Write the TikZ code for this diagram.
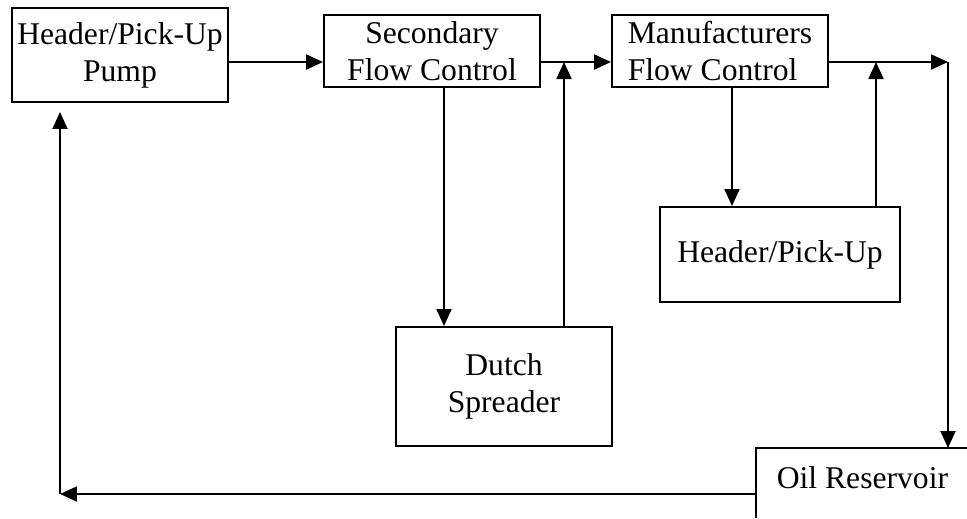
\documentclass[tikz,border=0pt]{standalone}
\usepackage{fontspec}
\setmainfont{Liberation Serif}
\usepackage{tikz}
\usetikzlibrary{arrows.meta,positioning}
\tikzset{
  box/.style={draw, line width=1.1pt, fill=white, align=center, inner xsep=2pt, inner ysep=1pt,
    minimum width=4.32cm, font=\fontsize{18}{21}\selectfont},
  flow/.style={line width=1.1pt, -{Triangle[length=0.34cm,width=0.3cm]}}
}

\begin{document}
\begin{tikzpicture}[x=0.02cm, y=-0.02cm]
  \useasboundingbox (0,0) rectangle (967,518);

  % the boxes
  \node[box, minimum height=1.88cm] (pump) at (120,55) {Header/Pick-Up\\Pump};
  \node[box, minimum height=1.44cm] (sec) at (432,51) {Secondary\\Flow Control};
  \node[box, minimum height=1.44cm, align=left] (man) at (720,51) {Manufacturers\\Flow Control};
  \node[box, minimum height=2.38cm] (dutch) at (504,386.5) {Dutch\\Spreader};
  \node[box, minimum width=4.8cm, minimum height=1.9cm] (hdr) at (780,254.5) {Header/Pick-Up};
  \node[box, draw=none, fill=none, anchor=north west, minimum width=4.22cm, minimum height=1.16cm] (res) at (756,448) {Oil Reservoir};
  \draw[line width=1.1pt] (res.north east) -- (res.north west) -- (res.west |- 0,518);

  % junction points
  \coordinate (d1) at (444,0);
  \coordinate (h1) at (732,0);
  \coordinate (j1) at (564,62);
  \coordinate (j2) at (876,62);
  \coordinate (out) at (948,62);
  \coordinate (ret) at (60,494);

  % main line
  \draw[flow] (pump.east |- j1) -- (sec.west |- j1);
  \draw[flow] (sec.east |- j1) -- (man.west |- j1);
  \draw[flow] (man.east |- j2) -- (out);
  \draw[flow] (out) -- (res.north -| out);

  % side loops
  \draw[flow] (sec.south -| d1) -- (dutch.north -| d1);
  \draw[flow] (dutch.north -| j1) -- (j1);
  \draw[flow] (man.south -| h1) -- (hdr.north -| h1);
  \draw[flow] (hdr.north -| j2) -- (j2);

  % return to pump
  \draw[flow] (res.west |- ret) -- (ret);
  \draw[flow, shorten >=1.8mm] (ret) -- (pump.south -| ret);
\end{tikzpicture}
\end{document}
